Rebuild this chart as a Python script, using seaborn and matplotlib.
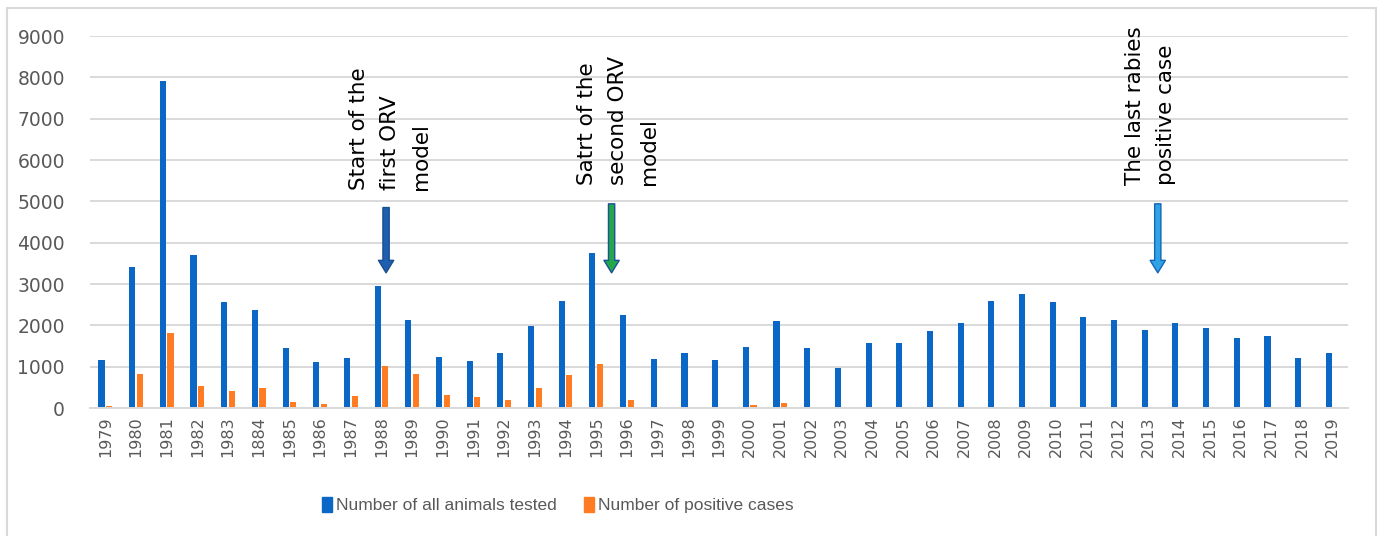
import numpy as np
import pandas as pd
import matplotlib
matplotlib.use('Agg')
import matplotlib.pyplot as plt
import seaborn as sns
from matplotlib.patches import Rectangle

years = ['1979', '1980', '1981', '1982', '1983', '1884', '1985', '1986', '1987', '1988',
         '1989', '1990', '1991', '1992', '1993', '1994', '1995', '1996', '1997', '1998',
         '1999', '2000', '2001', '2002', '2003', '2004', '2005', '2006', '2007', '2008',
         '2009', '2010', '2011', '2012', '2013', '2014', '2015', '2016', '2017', '2018',
         '2019']
tested = [1170, 3400, 7900, 3710, 2570, 2370, 1450, 1110, 1200, 2940,
          2140, 1230, 1140, 1340, 1995, 2590, 3760, 2250, 1195, 1340,
          1170, 1480, 2110, 1450, 970, 1570, 1570, 1860, 2050, 2590,
          2770, 2560, 2200, 2130, 1880, 2050, 1940, 1700, 1735, 1220,
          1340]
positive = [60, 820, 1820, 540, 400, 480, 140, 90, 290, 1025,
            820, 315, 260, 200, 485, 800, 1060, 200, 0, 0,
            0, 80, 115, 0, 0, 0, 0, 0, 0, 25,
            0, 0, 0, 0, 0, 0, 0, 0, 0, 0,
            0]
series_names = ['Number of all animals tested', 'Number of positive cases']

df = pd.DataFrame({
    'year': years * 2,
    'value': tested + positive,
    'series': [series_names[0]] * len(years) + [series_names[1]] * len(years),
})

blue = '#0B67C6'
orange = '#FF7C22'
grey = '#595959'

fig = plt.figure(figsize=(13.84, 5.36), dpi=100)
ax = fig.add_axes([0.065, 0.2388, 0.909, 0.694])

sns.barplot(data=df, x='year', y='value', hue='series', order=years,
            palette=[blue, orange], width=0.5, gap=0.2, ax=ax,
            legend=False, saturation=1)

ax.set_ylim(0, 9000)
ax.set_yticks(np.arange(0, 9001, 1000))
ax.set_xlabel('')
ax.set_ylabel('')
ax.grid(axis='y', color='#D9D9D9', lw=1.4)
ax.set_axisbelow(True)
for s in ['top', 'right', 'left']:
    ax.spines[s].set_visible(False)
ax.spines['bottom'].set_color('#D9D9D9')
ax.spines['bottom'].set_linewidth(1.4)
ax.tick_params(axis='both', length=0, colors=grey)
ax.tick_params(axis='y', labelsize=13.5, pad=18)
ax.tick_params(axis='x', labelsize=11.5, rotation=90, pad=6)

# annotations with block arrows
notes = [
    (9.27, 5275, 'Start of the\nfirst ORV\nmodel', 9.15, 4850, '#1F5FAF', '#1A4F8F'),
    (16.7, 5395, 'Satrt of the\nsecond ORV\nmodel', 16.5, 4940, '#22A84A', '#1F4E9A'),
    (34.06, 5395, 'The last rabies\npositive case', 34.3, 4940, '#2FA3E6', '#1565B5'),
]
for tx, ty, txt, axx, ay, fc, ec in notes:
    ax.text(tx, ty, txt, rotation=90, ha='center', va='bottom',
            multialignment='left', fontsize=15.5, color='black', linespacing=1.7)
    ax.annotate('', xy=(axx, 3270), xytext=(axx, ay),
                arrowprops=dict(arrowstyle='simple,head_length=0.9,head_width=1.1,tail_width=0.45',
                                fc=fc, ec=ec, lw=1, mutation_scale=10,
                                shrinkA=0, shrinkB=0))

handles = [Rectangle((0, 0), 1, 1, color=blue), Rectangle((0, 0), 1, 1, color=orange)]
fig.legend(handles, series_names, loc='center', bbox_to_anchor=(558 / 1384, 1 - 505 / 536),
           ncol=2, frameon=False, labelcolor=grey,
           prop={'family': ['Liberation Sans', 'DejaVu Sans'], 'size': 12.5},
           handlelength=0.55, handleheight=1.0, handletextpad=0.25, columnspacing=1.6)

fig.patches.append(Rectangle((7 / 1384, -0.05), 1369 / 1384, 1.05 - 8 / 536,
                             transform=fig.transFigure, fill=False,
                             edgecolor='#D9D9D9', lw=1.5))

fig.savefig('out.png', dpi=100)
